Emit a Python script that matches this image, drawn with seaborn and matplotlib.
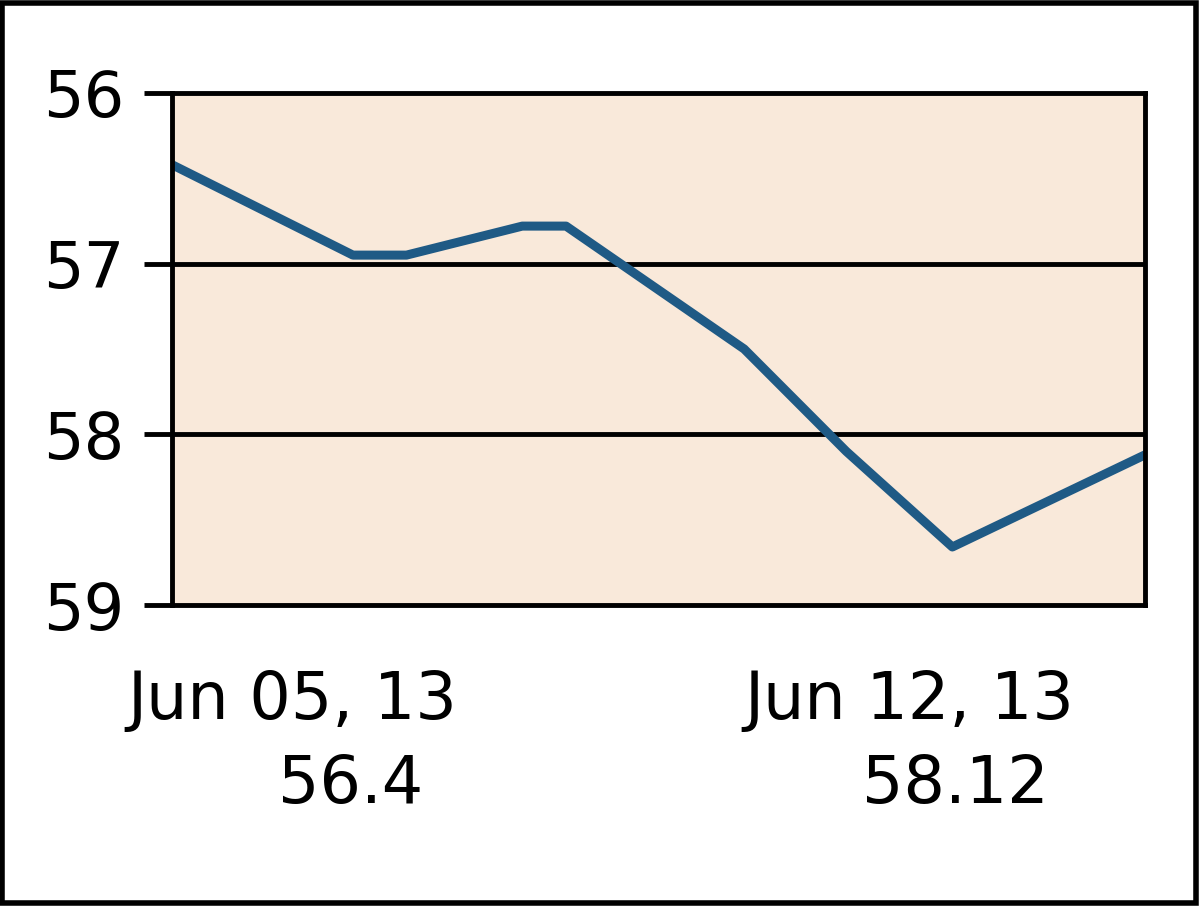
import matplotlib
matplotlib.use('Agg')
import matplotlib.pyplot as plt
import seaborn as sns
import pandas as pd
from matplotlib.patches import Rectangle

# position along the week (0 = Jun 05, 1 = Jun 12) and price
t = [0.0, 0.186, 0.241, 0.360, 0.405, 0.588, 0.693, 0.802, 1.0]
price = [56.42, 56.95, 56.95, 56.78, 56.78, 57.50, 58.10, 58.66, 58.12]
yticks = [56, 57, 58, 59]
first_label = ['Jun 05, 13', '56.4']
last_label = ['Jun 12, 13', '58.12']

df = pd.DataFrame({'t': t, 'price': price})

sns.set_style('white')
plt.rcParams['font.family'] = ['DejaVu Sans']
plt.rcParams['text.color'] = 'black'
plt.rcParams['ytick.color'] = 'black'
plt.rcParams['ytick.labelcolor'] = 'black'

fig = plt.figure(figsize=(12, 9.08), dpi=100)
ax = fig.add_axes([0.1433, 0.3337, 0.8109, 0.5639])
ax.set_facecolor('#f9e9da')

sns.lineplot(x='t', y='price', data=df, ax=ax, color='#1f5a85', linewidth=6.5)

ax.set_xlim(0, 1)
ax.set_ylim(59, 56)
ax.set_yticks(yticks)
ax.set_yticklabels([str(v) for v in yticks], fontsize=46, color='black')
ax.set_xticks([])
ax.set_xlabel('')
ax.set_ylabel('')
ax.tick_params(axis='y', length=20, width=3.5, color='black', pad=14, left=True)
for v in [57, 58]:
    ax.axhline(v, color='black', linewidth=3.5, zorder=1)
for s in ax.spines.values():
    s.set_color('black')
    s.set_linewidth(3.5)

fig.text(0.244, 0.228, first_label[0], fontsize=47, ha='center', va='center', color='black')
fig.text(0.292, 0.135, first_label[1], fontsize=47, ha='center', va='center', color='black')
fig.text(0.758, 0.228, last_label[0], fontsize=47, ha='center', va='center', color='black')
fig.text(0.796, 0.135, last_label[1], fontsize=47, ha='center', va='center', color='black')

fig.patches.append(Rectangle((0.002, 0.005), 0.995, 0.992, transform=fig.transFigure,
                             fill=False, edgecolor='black', linewidth=4))

fig.savefig('out.png', dpi=100)
